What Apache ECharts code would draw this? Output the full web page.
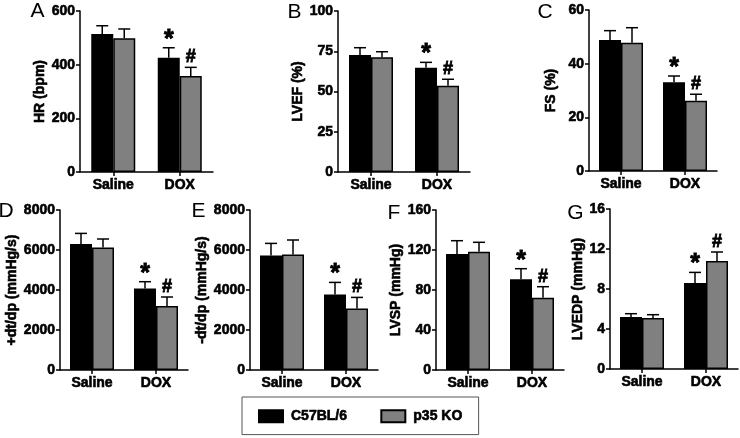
<!DOCTYPE html>
<html><head><meta charset="utf-8">
<script src="https://cdn.jsdelivr.net/npm/echarts@6/dist/echarts.min.js"></script>
<style>html,body{margin:0;padding:0;background:#fff}#c{width:740px;height:438px}</style>
</head><body><div id="c"></div>
<script>
// ---------- data ----------
const categories = ['Saline', 'DOX'];
const seriesNames = ['C57BL/6', 'p35 KO'];
const panelLetters = ['A', 'B', 'C', 'D', 'E', 'F', 'G'];
const yNames = ['HR (bpm)', 'LVEF (%)', 'FS (%)', '+dt/dp (mmHg/s)', '-dt/dp (mmHg/s)', 'LVSP (mmHg)', 'LVEDP (mmHg)'];
const yMax = [600, 100, 60, 8000, 8000, 160, 16];
const yInterval = [200, 25, 20, 2000, 2000, 40, 4];

const hrC57 = [514, 426],      hrC57Err = [31, 37];
const hrKO = [498, 358],       hrKOErr = [35, 32];
const lvefC57 = [72.7, 64.8],  lvefC57Err = [4.5, 3.3];
const lvefKO = [71.2, 53.6],   lvefKOErr = [3.5, 4.0];
const fsC57 = [48.8, 33.1],    fsC57Err = [3.5, 2.3];
const fsKO = [47.8, 26.2],     fsKOErr = [5.6, 2.4];
const pdtC57 = [6300, 4080],   pdtC57Err = [530, 335];
const pdtKO = [6120, 3200],    pdtKOErr = [430, 450];
const ndtC57 = [5720, 3780],   ndtC57Err = [610, 600];
const ndtKO = [5780, 3080],    ndtKOErr = [720, 550];
const lvspC57 = [116, 90.7],   lvspC57Err = [13.3, 10.6];
const lvspKO = [118.3, 72.3],  lvspKOErr = [9.4, 11];
const lvedpC57 = [5.2, 8.6],   lvedpC57Err = [0.33, 1.06];
const lvedpKO = [5.1, 10.8],   lvedpKOErr = [0.33, 0.9];

const c57Sig = ['', '*'];
const koSig = ['', '#'];

const c57Means = [hrC57, lvefC57, fsC57, pdtC57, ndtC57, lvspC57, lvedpC57];
const c57Errs = [hrC57Err, lvefC57Err, fsC57Err, pdtC57Err, ndtC57Err, lvspC57Err, lvedpC57Err];
const koMeans = [hrKO, lvefKO, fsKO, pdtKO, ndtKO, lvspKO, lvedpKO];
const koErrs = [hrKOErr, lvefKOErr, fsKOErr, pdtKOErr, ndtKOErr, lvspKOErr, lvedpKOErr];

// ---------- layout / style ----------
const FONT = 'Arial';
const BAR_W = 22;
const grids = [
  {left: 80, top: 11, width: 133, height: 161},
  {left: 338, top: 11, width: 132, height: 161},
  {left: 589, top: 10, width: 128, height: 161},
  {left: 60, top: 210, width: 128, height: 160},
  {left: 250, top: 210, width: 128, height: 160},
  {left: 436, top: 210, width: 128, height: 160},
  {left: 610, top: 209, width: 128, height: 160}
];
const nameGaps = [29, 32, 31, 36, 36, 32, 23];
const letterPos = [[37.5, 11], [294.5, 12], [545, 12], [6, 211], [198.5, 211], [394, 213], [575.5, 213]];
const colors = ['#000000', '#808080'];
const heavy = {textBorderColor: '#000', textBorderWidth: 0.6};

function errRender(sign, sig) {
  return function (params, api) {
    const i = api.value(0);
    const mean = api.value(1);
    const err = api.value(2);
    const p0 = api.coord([i, mean]);
    const p1 = api.coord([i, mean + err]);
    const x = p0[0] + sign * BAR_W / 2;
    const children = [
      {type: 'line', shape: {x1: x, y1: p0[1], x2: x, y2: p1[1]}, style: {stroke: '#000', lineWidth: 1.5}},
      {type: 'line', shape: {x1: x - 6, y1: p1[1], x2: x + 6, y2: p1[1]}, style: {stroke: '#000', lineWidth: 1.5}}
    ];
    const s = sig[i];
    if (s) {
      const isStar = s === '*';
      children.push({
        type: 'text',
        style: {
          text: s, x: x, y: p1[1] - (isStar ? 8 : 10),
          textAlign: 'center', textVerticalAlign: 'middle',
          align: 'center', verticalAlign: 'middle',
          font: 'bold ' + (isStar ? 25 : 18) + 'px ' + FONT,
          fill: '#000', stroke: '#000', lineWidth: 0.8
        }
      });
    }
    return {type: 'group', children: children};
  };
}

const boldText = Object.assign({fontSize: 14, fontWeight: 'bold', color: '#000', fontFamily: FONT}, heavy);

const option = {
  animation: false,
  backgroundColor: '#fff',
  textStyle: {fontFamily: FONT, fontWeight: 'bold'},
  grid: grids.map(g => Object.assign({containLabel: false}, g)),
  xAxis: grids.map((g, i) => ({
    type: 'category', gridIndex: i, data: categories,
    axisLine: {show: true, onZero: false, lineStyle: {color: '#000', width: 1.5}},
    axisTick: {show: true, alignWithLabel: true, length: 4, lineStyle: {color: '#000', width: 1.5}},
    axisLabel: Object.assign({margin: 6}, boldText),
    splitLine: {show: false}
  })),
  yAxis: grids.map((g, i) => ({
    type: 'value', gridIndex: i, min: 0, max: yMax[i], interval: yInterval[i],
    name: yNames[i], nameLocation: 'middle', nameGap: nameGaps[i], nameRotate: 90,
    nameTextStyle: Object.assign({}, boldText),
    axisLine: {show: true, lineStyle: {color: '#000', width: 1.5}},
    axisTick: {show: true, length: 4, lineStyle: {color: '#000', width: 1.5}},
    axisLabel: Object.assign({margin: 5, formatter: v => String(v)}, boldText),
    splitLine: {show: false}
  })),
  legend: {
    data: seriesNames, left: 242, top: 397, orient: 'horizontal',
    icon: 'rect', itemWidth: 24, itemHeight: 12, itemGap: 33,
    padding: [12, 16, 11, 16], borderColor: '#555', borderWidth: 1,
    textStyle: Object.assign({padding: [0, 0, 0, 3]}, boldText)
  },
  graphic: panelLetters.map((t, i) => ({
    type: 'text', x: letterPos[i][0], y: letterPos[i][1],
    style: {text: t, font: 'normal 21px ' + FONT, fill: '#000', textAlign: 'center', textVerticalAlign: 'middle'}
  })),
  series: []
};

grids.forEach((g, i) => {
  option.series.push({
    type: 'bar', name: seriesNames[0], xAxisIndex: i, yAxisIndex: i,
    data: c57Means[i], barWidth: BAR_W, barGap: '0%',
    itemStyle: {color: colors[0], borderColor: '#000', borderWidth: 1.5}
  });
  option.series.push({
    type: 'bar', name: seriesNames[1], xAxisIndex: i, yAxisIndex: i,
    data: koMeans[i], barWidth: BAR_W, barGap: '0%',
    itemStyle: {color: colors[1], borderColor: '#000', borderWidth: 1.5}
  });
  option.series.push({
    type: 'custom', xAxisIndex: i, yAxisIndex: i, z: 5,
    data: c57Means[i].map((m, k) => [k, m, c57Errs[i][k]]),
    encode: {x: 0, y: 1},
    renderItem: errRender(-1, c57Sig)
  });
  option.series.push({
    type: 'custom', xAxisIndex: i, yAxisIndex: i, z: 5,
    data: koMeans[i].map((m, k) => [k, m, koErrs[i][k]]),
    encode: {x: 0, y: 1},
    renderItem: errRender(1, koSig)
  });
});

const chart = echarts.init(document.getElementById('c'), null, {renderer: 'canvas'});
chart.setOption(option);
</script>
</body></html>
